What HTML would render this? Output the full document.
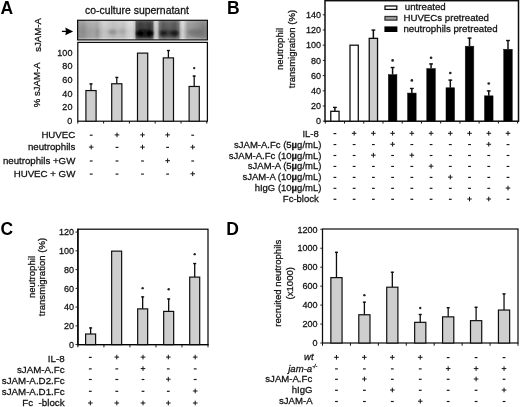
<!DOCTYPE html>
<html><head><meta charset="utf-8"><title>figure</title>
<style>html,body{margin:0;padding:0;background:#fff;}svg{display:block;}text{font-family:"Liberation Sans",sans-serif;}</style>
</head><body>
<svg width="520" height="407" viewBox="0 0 520 407" font-family="'Liberation Sans', sans-serif" font-size="9.6">
<rect x="0" y="0" width="520" height="407" fill="#fff"/>
<filter id="soft" x="0" y="0" width="520" height="407" filterUnits="userSpaceOnUse"><feGaussianBlur stdDeviation="0.36"/></filter>
<g filter="url(#soft)">
<text x="0.4" y="13.8" font-size="17.5" font-weight="bold" fill="#000">A</text>
<text x="85" y="14.4" font-size="10.45" fill="#141414" stroke="#141414" stroke-width="0.28">co-culture supernatant</text>
<defs>
<linearGradient id="blot" x1="0" x2="1" y1="0" y2="0"><stop offset="0.0000" stop-color="#8c8c8c"/><stop offset="0.0185" stop-color="#9a9a9a"/><stop offset="0.0416" stop-color="#959595"/><stop offset="0.0801" stop-color="#a6a6a6"/><stop offset="0.1263" stop-color="#acacac"/><stop offset="0.1495" stop-color="#a4a4a4"/><stop offset="0.1803" stop-color="#c0c0c0"/><stop offset="0.2034" stop-color="#cecece"/><stop offset="0.2342" stop-color="#c8c8c8"/><stop offset="0.2727" stop-color="#bebebe"/><stop offset="0.3267" stop-color="#c6c6c6"/><stop offset="0.3575" stop-color="#c2c2c2"/><stop offset="0.3883" stop-color="#d6d6d6"/><stop offset="0.4191" stop-color="#dedede"/><stop offset="0.4391" stop-color="#c6c6c6"/><stop offset="0.4530" stop-color="#4a4a4a"/><stop offset="0.4807" stop-color="#343434"/><stop offset="0.5193" stop-color="#3e3e3e"/><stop offset="0.5578" stop-color="#323232"/><stop offset="0.5778" stop-color="#4e4e4e"/><stop offset="0.5901" stop-color="#b8b8b8"/><stop offset="0.6040" stop-color="#d6d6d6"/><stop offset="0.6179" stop-color="#bcbcbc"/><stop offset="0.6317" stop-color="#6e6e6e"/><stop offset="0.6579" stop-color="#525252"/><stop offset="0.7042" stop-color="#606060"/><stop offset="0.7504" stop-color="#505050"/><stop offset="0.7781" stop-color="#6e6e6e"/><stop offset="0.7935" stop-color="#c0c0c0"/><stop offset="0.8105" stop-color="#dcdcdc"/><stop offset="0.8274" stop-color="#c0c0c0"/><stop offset="0.8467" stop-color="#9e9e9e"/><stop offset="0.8891" stop-color="#969696"/><stop offset="0.9276" stop-color="#8c8c8c"/><stop offset="0.9661" stop-color="#828282"/><stop offset="1.0000" stop-color="#8e8e8e"/></linearGradient>
<linearGradient id="blotv" x1="0" x2="0" y1="0" y2="1">
<stop offset="0" stop-color="#fff" stop-opacity="0.20"/>
<stop offset="0.18" stop-color="#fff" stop-opacity="0.04"/>
<stop offset="0.55" stop-color="#000" stop-opacity="0.06"/>
<stop offset="0.8" stop-color="#000" stop-opacity="0.04"/>
<stop offset="0.92" stop-color="#fff" stop-opacity="0.18"/>
<stop offset="1" stop-color="#fff" stop-opacity="0.30"/>
</linearGradient>
<filter id="bl" x="-50%" y="-50%" width="200%" height="200%"><feGaussianBlur stdDeviation="1.3"/></filter>
<clipPath id="blotclip"><rect x="77.6" y="20.3" width="129.8" height="19.6"/></clipPath>
</defs>
<g clip-path="url(#blotclip)">
<rect x="77.6" y="20.3" width="129.8" height="19.6" fill="url(#blot)"/>
<rect x="77.6" y="20.3" width="129.8" height="19.6" fill="url(#blotv)"/>
<g filter="url(#bl)">
<ellipse cx="112.5" cy="32" rx="4" ry="2.6" fill="#888" opacity="0.7"/>
<ellipse cx="122" cy="31.5" rx="3.5" ry="2.8" fill="#999" opacity="0.5"/>
<ellipse cx="83" cy="30" rx="2.2" ry="5" fill="#8c8c8c" opacity="0.5"/>
<ellipse cx="97.5" cy="33" rx="1.6" ry="4" fill="#8c8c8c" opacity="0.5"/>
<ellipse cx="144.8" cy="33.2" rx="8.6" ry="3.4" fill="#111" opacity="0.85"/>
<ellipse cx="139.8" cy="33.6" rx="3.4" ry="2.8" fill="#000" opacity="0.7"/>
<ellipse cx="149.8" cy="33.6" rx="3.2" ry="2.8" fill="#000" opacity="0.7"/>
<ellipse cx="169" cy="33" rx="9.6" ry="2.8" fill="#222" opacity="0.6"/>
<ellipse cx="163.2" cy="33.2" rx="3.2" ry="2.4" fill="#000" opacity="0.6"/>
<ellipse cx="174.8" cy="33.2" rx="3.4" ry="2.5" fill="#000" opacity="0.65"/>
<ellipse cx="196" cy="32.5" rx="8" ry="3.4" fill="#666" opacity="0.5"/>
<ellipse cx="203" cy="30" rx="2.5" ry="5" fill="#777" opacity="0.4"/>
</g></g>
<rect x="77.60" y="20.30" width="129.80" height="19.60" fill="none" stroke="#111" stroke-width="1.2"/>
<path d="M61.9 31.4 H67" stroke="#000" stroke-width="1.3" fill="none"/>
<path d="M73.1 31.4 L65.3 27.6 L66.0 31.4 L65.3 35.2 Z" fill="#000"/>
<text x="40.6" y="35" text-anchor="middle" transform="rotate(-90 40.6 35)" fill="#141414" stroke="#141414" stroke-width="0.28">sJAM-A</text>
<text x="40.3" y="84.8" text-anchor="middle" transform="rotate(-90 40.3 84.8)" fill="#141414" stroke="#141414" stroke-width="0.28">% sJAM-A</text>
<rect x="77.80" y="42.40" width="129.60" height="78.80" fill="none" stroke="#111" stroke-width="1.25"/>
<text x="0" y="0" text-anchor="end" font-size="9.7" transform="translate(72.4 124.2) scale(0.93 1)" fill="#141414" stroke="#141414" stroke-width="0.28">0</text>
<text x="0" y="0" text-anchor="end" font-size="9.7" transform="translate(72.4 110.49828000000001) scale(0.93 1)" fill="#141414" stroke="#141414" stroke-width="0.28">20</text>
<text x="0" y="0" text-anchor="end" font-size="9.7" transform="translate(72.4 96.79656) scale(0.93 1)" fill="#141414" stroke="#141414" stroke-width="0.28">40</text>
<text x="0" y="0" text-anchor="end" font-size="9.7" transform="translate(72.4 83.09484) scale(0.93 1)" fill="#141414" stroke="#141414" stroke-width="0.28">60</text>
<text x="0" y="0" text-anchor="end" font-size="9.7" transform="translate(72.4 69.39312000000001) scale(0.93 1)" fill="#141414" stroke="#141414" stroke-width="0.28">80</text>
<text x="0" y="0" text-anchor="end" font-size="9.7" transform="translate(72.4 55.691399999999994) scale(0.93 1)" fill="#141414" stroke="#141414" stroke-width="0.28">100</text>
<line x1="77.8" y1="121.2" x2="77.8" y2="123.5" stroke="#111" stroke-width="1.0"/>
<line x1="103.6" y1="121.2" x2="103.6" y2="123.5" stroke="#111" stroke-width="1.0"/>
<line x1="129.4" y1="121.2" x2="129.4" y2="123.5" stroke="#111" stroke-width="1.0"/>
<line x1="155.2" y1="121.2" x2="155.2" y2="123.5" stroke="#111" stroke-width="1.0"/>
<line x1="181.0" y1="121.2" x2="181.0" y2="123.5" stroke="#111" stroke-width="1.0"/>
<line x1="206.8" y1="121.2" x2="206.8" y2="123.5" stroke="#111" stroke-width="1.0"/>
<line x1="91.0" y1="90.555" x2="91.0" y2="83.40450000000001" stroke="#111" stroke-width="1.3"/>
<line x1="89.5" y1="83.90450000000001" x2="92.5" y2="83.90450000000001" stroke="#111" stroke-width="1.4"/>
<rect x="85.90" y="90.56" width="10.20" height="30.64" fill="#cecece" stroke="#111" stroke-width="1.2"/>
<line x1="116.8" y1="83.745" x2="116.8" y2="76.935" stroke="#111" stroke-width="1.3"/>
<line x1="115.3" y1="77.435" x2="118.3" y2="77.435" stroke="#111" stroke-width="1.4"/>
<rect x="111.70" y="83.75" width="10.20" height="37.45" fill="#cecece" stroke="#111" stroke-width="1.2"/>
<rect x="137.50" y="53.10" width="10.20" height="68.10" fill="#cecece" stroke="#111" stroke-width="1.2"/>
<line x1="168.4" y1="57.86700000000001" x2="168.4" y2="50.03550000000001" stroke="#111" stroke-width="1.3"/>
<line x1="166.9" y1="50.53550000000001" x2="169.9" y2="50.53550000000001" stroke="#111" stroke-width="1.4"/>
<rect x="163.30" y="57.87" width="10.20" height="63.33" fill="#cecece" stroke="#111" stroke-width="1.2"/>
<line x1="194.20000000000002" y1="86.46900000000001" x2="194.20000000000002" y2="75.57300000000001" stroke="#111" stroke-width="1.3"/>
<line x1="192.70000000000002" y1="76.07300000000001" x2="195.70000000000002" y2="76.07300000000001" stroke="#111" stroke-width="1.4"/>
<rect x="189.10" y="86.47" width="10.20" height="34.73" fill="#cecece" stroke="#111" stroke-width="1.2"/>
<circle cx="194.20" cy="68.08" r="1.2" fill="#222"/>
<text x="75.3" y="138.2" text-anchor="end" font-size="9.7" fill="#141414" stroke="#141414" stroke-width="0.28">HUVEC</text>
<line x1="89.8" y1="135.2" x2="92.60000000000001" y2="135.2" stroke="#141414" stroke-width="1.15"/>
<line x1="114.7" y1="134.89999999999998" x2="119.3" y2="134.89999999999998" stroke="#141414" stroke-width="1.0"/>
<line x1="117.0" y1="132.59999999999997" x2="117.0" y2="137.2" stroke="#141414" stroke-width="1.0"/>
<line x1="140.2" y1="134.89999999999998" x2="144.8" y2="134.89999999999998" stroke="#141414" stroke-width="1.0"/>
<line x1="142.5" y1="132.59999999999997" x2="142.5" y2="137.2" stroke="#141414" stroke-width="1.0"/>
<line x1="165.29999999999998" y1="134.89999999999998" x2="169.9" y2="134.89999999999998" stroke="#141414" stroke-width="1.0"/>
<line x1="167.6" y1="132.59999999999997" x2="167.6" y2="137.2" stroke="#141414" stroke-width="1.0"/>
<line x1="191.29999999999998" y1="135.2" x2="194.1" y2="135.2" stroke="#141414" stroke-width="1.15"/>
<text x="75.3" y="150.4" text-anchor="end" font-size="9.7" fill="#141414" stroke="#141414" stroke-width="0.28">neutrophils</text>
<line x1="88.9" y1="147.1" x2="93.5" y2="147.1" stroke="#141414" stroke-width="1.0"/>
<line x1="91.2" y1="144.79999999999998" x2="91.2" y2="149.4" stroke="#141414" stroke-width="1.0"/>
<line x1="115.6" y1="147.4" x2="118.4" y2="147.4" stroke="#141414" stroke-width="1.15"/>
<line x1="140.2" y1="147.1" x2="144.8" y2="147.1" stroke="#141414" stroke-width="1.0"/>
<line x1="142.5" y1="144.79999999999998" x2="142.5" y2="149.4" stroke="#141414" stroke-width="1.0"/>
<line x1="166.2" y1="147.4" x2="169.0" y2="147.4" stroke="#141414" stroke-width="1.15"/>
<line x1="190.39999999999998" y1="147.1" x2="195.0" y2="147.1" stroke="#141414" stroke-width="1.0"/>
<line x1="192.7" y1="144.79999999999998" x2="192.7" y2="149.4" stroke="#141414" stroke-width="1.0"/>
<text x="75.3" y="164.0" text-anchor="end" font-size="9.7" fill="#141414" stroke="#141414" stroke-width="0.28">neutrophils +GW</text>
<line x1="89.8" y1="161.0" x2="92.60000000000001" y2="161.0" stroke="#141414" stroke-width="1.15"/>
<line x1="115.6" y1="161.0" x2="118.4" y2="161.0" stroke="#141414" stroke-width="1.15"/>
<line x1="141.1" y1="161.0" x2="143.9" y2="161.0" stroke="#141414" stroke-width="1.15"/>
<line x1="165.29999999999998" y1="160.7" x2="169.9" y2="160.7" stroke="#141414" stroke-width="1.0"/>
<line x1="167.6" y1="158.39999999999998" x2="167.6" y2="163.0" stroke="#141414" stroke-width="1.0"/>
<line x1="191.29999999999998" y1="161.0" x2="194.1" y2="161.0" stroke="#141414" stroke-width="1.15"/>
<text x="75.3" y="177.1" text-anchor="end" font-size="9.7" fill="#141414" stroke="#141414" stroke-width="0.28">HUVEC + GW</text>
<line x1="89.8" y1="174.1" x2="92.60000000000001" y2="174.1" stroke="#141414" stroke-width="1.15"/>
<line x1="115.6" y1="174.1" x2="118.4" y2="174.1" stroke="#141414" stroke-width="1.15"/>
<line x1="141.1" y1="174.1" x2="143.9" y2="174.1" stroke="#141414" stroke-width="1.15"/>
<line x1="166.2" y1="174.1" x2="169.0" y2="174.1" stroke="#141414" stroke-width="1.15"/>
<line x1="190.39999999999998" y1="173.79999999999998" x2="195.0" y2="173.79999999999998" stroke="#141414" stroke-width="1.0"/>
<line x1="192.7" y1="171.49999999999997" x2="192.7" y2="176.1" stroke="#141414" stroke-width="1.0"/>
<text x="226.9" y="13.8" font-size="17.5" font-weight="bold" fill="#000">B</text>
<rect x="325.00" y="0.70" width="193.50" height="120.50" fill="none" stroke="#111" stroke-width="1.5"/>
<text x="0" y="0" text-anchor="end" font-size="9.7" transform="translate(321.0 124.3) scale(0.93 1)" fill="#141414" stroke="#141414" stroke-width="0.28">0</text>
<line x1="322.8" y1="121.2" x2="325.0" y2="121.2" stroke="#111" stroke-width="0.9"/>
<text x="0" y="0" text-anchor="end" font-size="9.7" transform="translate(321.0 109.1) scale(0.93 1)" fill="#141414" stroke="#141414" stroke-width="0.28">20</text>
<line x1="322.8" y1="106.0" x2="325.0" y2="106.0" stroke="#111" stroke-width="0.9"/>
<text x="0" y="0" text-anchor="end" font-size="9.7" transform="translate(321.0 93.9) scale(0.93 1)" fill="#141414" stroke="#141414" stroke-width="0.28">40</text>
<line x1="322.8" y1="90.80000000000001" x2="325.0" y2="90.80000000000001" stroke="#111" stroke-width="0.9"/>
<text x="0" y="0" text-anchor="end" font-size="9.7" transform="translate(321.0 78.69999999999999) scale(0.93 1)" fill="#141414" stroke="#141414" stroke-width="0.28">60</text>
<line x1="322.8" y1="75.6" x2="325.0" y2="75.6" stroke="#111" stroke-width="0.9"/>
<text x="0" y="0" text-anchor="end" font-size="9.7" transform="translate(321.0 63.50000000000001) scale(0.93 1)" fill="#141414" stroke="#141414" stroke-width="0.28">80</text>
<line x1="322.8" y1="60.400000000000006" x2="325.0" y2="60.400000000000006" stroke="#111" stroke-width="0.9"/>
<text x="0" y="0" text-anchor="end" font-size="9.7" transform="translate(321.0 48.300000000000004) scale(0.93 1)" fill="#141414" stroke="#141414" stroke-width="0.28">100</text>
<line x1="322.8" y1="45.2" x2="325.0" y2="45.2" stroke="#111" stroke-width="0.9"/>
<text x="0" y="0" text-anchor="end" font-size="9.7" transform="translate(321.0 33.1) scale(0.93 1)" fill="#141414" stroke="#141414" stroke-width="0.28">120</text>
<line x1="322.8" y1="30.0" x2="325.0" y2="30.0" stroke="#111" stroke-width="0.9"/>
<text x="0" y="0" text-anchor="end" font-size="9.7" transform="translate(321.0 17.9) scale(0.93 1)" fill="#141414" stroke="#141414" stroke-width="0.28">140</text>
<line x1="322.8" y1="14.799999999999997" x2="325.0" y2="14.799999999999997" stroke="#111" stroke-width="0.9"/>
<text x="283.0" y="49" text-anchor="middle" transform="rotate(-90 283.0 49)" fill="#141414" stroke="#141414" stroke-width="0.28">neutrophil</text>
<text x="295.4" y="49" text-anchor="middle" transform="rotate(-90 295.4 49)" fill="#141414" stroke="#141414" stroke-width="0.28">transmigration (%)</text>
<line x1="325.3" y1="121.2" x2="325.3" y2="123.5" stroke="#111" stroke-width="1.0"/>
<line x1="344.53000000000003" y1="121.2" x2="344.53000000000003" y2="123.5" stroke="#111" stroke-width="1.0"/>
<line x1="363.76" y1="121.2" x2="363.76" y2="123.5" stroke="#111" stroke-width="1.0"/>
<line x1="382.99" y1="121.2" x2="382.99" y2="123.5" stroke="#111" stroke-width="1.0"/>
<line x1="402.22" y1="121.2" x2="402.22" y2="123.5" stroke="#111" stroke-width="1.0"/>
<line x1="421.45000000000005" y1="121.2" x2="421.45000000000005" y2="123.5" stroke="#111" stroke-width="1.0"/>
<line x1="440.68" y1="121.2" x2="440.68" y2="123.5" stroke="#111" stroke-width="1.0"/>
<line x1="459.91" y1="121.2" x2="459.91" y2="123.5" stroke="#111" stroke-width="1.0"/>
<line x1="479.14" y1="121.2" x2="479.14" y2="123.5" stroke="#111" stroke-width="1.0"/>
<line x1="498.37" y1="121.2" x2="498.37" y2="123.5" stroke="#111" stroke-width="1.0"/>
<line x1="517.6" y1="121.2" x2="517.6" y2="123.5" stroke="#111" stroke-width="1.0"/>
<line x1="334.915" y1="111.32000000000001" x2="334.915" y2="106.912" stroke="#111" stroke-width="1.5"/>
<line x1="333.01500000000004" y1="107.412" x2="336.815" y2="107.412" stroke="#111" stroke-width="1.4"/>
<rect x="330.77" y="111.32" width="8.30" height="9.88" fill="#fff" stroke="#111" stroke-width="1.3"/>
<rect x="350.00" y="45.20" width="8.30" height="76.00" fill="#fff" stroke="#111" stroke-width="1.3"/>
<line x1="373.375" y1="38.36" x2="373.375" y2="29.620000000000005" stroke="#111" stroke-width="1.5"/>
<line x1="371.475" y1="30.120000000000005" x2="375.275" y2="30.120000000000005" stroke="#111" stroke-width="1.4"/>
<rect x="369.23" y="38.36" width="8.30" height="82.84" fill="#cecece" stroke="#111" stroke-width="1.3"/>
<line x1="392.605" y1="74.612" x2="392.605" y2="67.012" stroke="#111" stroke-width="1.5"/>
<line x1="390.70500000000004" y1="67.512" x2="394.505" y2="67.512" stroke="#111" stroke-width="1.4"/>
<rect x="388.31" y="74.61" width="8.60" height="46.59" fill="#000" stroke="#111" stroke-width="0.5"/>
<circle cx="392.61" cy="60.40" r="1.32" fill="#222"/>
<line x1="411.83500000000004" y1="93.08" x2="411.83500000000004" y2="87.988" stroke="#111" stroke-width="1.5"/>
<line x1="409.93500000000006" y1="88.488" x2="413.735" y2="88.488" stroke="#111" stroke-width="1.4"/>
<rect x="407.54" y="93.08" width="8.60" height="28.12" fill="#000" stroke="#111" stroke-width="0.5"/>
<circle cx="411.84" cy="80.39" r="1.32" fill="#222"/>
<line x1="431.065" y1="68.53200000000001" x2="431.065" y2="63.440000000000005" stroke="#111" stroke-width="1.5"/>
<line x1="429.165" y1="63.940000000000005" x2="432.965" y2="63.940000000000005" stroke="#111" stroke-width="1.4"/>
<rect x="426.76" y="68.53" width="8.60" height="52.67" fill="#000" stroke="#111" stroke-width="0.5"/>
<circle cx="431.06" cy="57.74" r="1.32" fill="#222"/>
<line x1="450.295" y1="87.76" x2="450.295" y2="79.628" stroke="#111" stroke-width="1.5"/>
<line x1="448.39500000000004" y1="80.128" x2="452.195" y2="80.128" stroke="#111" stroke-width="1.4"/>
<rect x="446.00" y="87.76" width="8.60" height="33.44" fill="#000" stroke="#111" stroke-width="0.5"/>
<circle cx="450.30" cy="73.02" r="1.32" fill="#222"/>
<line x1="469.525" y1="46.188" x2="469.525" y2="37.60000000000001" stroke="#111" stroke-width="1.5"/>
<line x1="467.625" y1="38.10000000000001" x2="471.42499999999995" y2="38.10000000000001" stroke="#111" stroke-width="1.4"/>
<rect x="465.22" y="46.19" width="8.60" height="75.01" fill="#000" stroke="#111" stroke-width="0.5"/>
<line x1="488.755" y1="95.816" x2="488.755" y2="90.42" stroke="#111" stroke-width="1.5"/>
<line x1="486.855" y1="90.92" x2="490.655" y2="90.92" stroke="#111" stroke-width="1.4"/>
<rect x="484.45" y="95.82" width="8.60" height="25.38" fill="#000" stroke="#111" stroke-width="0.5"/>
<circle cx="488.75" cy="83.50" r="1.32" fill="#222"/>
<line x1="507.985" y1="49.227999999999994" x2="507.985" y2="40.03200000000001" stroke="#111" stroke-width="1.5"/>
<line x1="506.08500000000004" y1="40.53200000000001" x2="509.885" y2="40.53200000000001" stroke="#111" stroke-width="1.4"/>
<rect x="503.69" y="49.23" width="8.60" height="71.97" fill="#000" stroke="#111" stroke-width="0.5"/>
<rect x="385.00" y="6.00" width="11.80" height="3.40" fill="#fff" stroke="#111" stroke-width="1.3"/>
<rect x="385.00" y="16.50" width="11.90" height="3.60" fill="#a4a4a4" stroke="#333" stroke-width="1.3"/>
<rect x="384.40" y="26.40" width="13.00" height="5.60" fill="#000" stroke="#111" stroke-width="0"/>
<text x="404.8" y="10.2" font-size="9.7" fill="#141414" stroke="#141414" stroke-width="0.28">untreated</text>
<text x="403.4" y="21.4" font-size="9.7" fill="#141414" stroke="#141414" stroke-width="0.28">HUVECs pretreated</text>
<text x="403.4" y="31.7" font-size="9.7" fill="#141414" stroke="#141414" stroke-width="0.28">neutrophils pretreated</text>
<text x="321.4" y="136.6" text-anchor="end" font-size="9.5" fill="#141414" stroke="#141414" stroke-width="0.28" xml:space="preserve">IL-8 </text>
<line x1="333.51500000000004" y1="133.6" x2="336.315" y2="133.6" stroke="#141414" stroke-width="1.15"/>
<line x1="351.84499999999997" y1="133.29999999999998" x2="356.445" y2="133.29999999999998" stroke="#141414" stroke-width="1.0"/>
<line x1="354.145" y1="130.99999999999997" x2="354.145" y2="135.6" stroke="#141414" stroke-width="1.0"/>
<line x1="371.075" y1="133.29999999999998" x2="375.675" y2="133.29999999999998" stroke="#141414" stroke-width="1.0"/>
<line x1="373.375" y1="130.99999999999997" x2="373.375" y2="135.6" stroke="#141414" stroke-width="1.0"/>
<line x1="390.305" y1="133.29999999999998" x2="394.90500000000003" y2="133.29999999999998" stroke="#141414" stroke-width="1.0"/>
<line x1="392.605" y1="130.99999999999997" x2="392.605" y2="135.6" stroke="#141414" stroke-width="1.0"/>
<line x1="409.535" y1="133.29999999999998" x2="414.13500000000005" y2="133.29999999999998" stroke="#141414" stroke-width="1.0"/>
<line x1="411.83500000000004" y1="130.99999999999997" x2="411.83500000000004" y2="135.6" stroke="#141414" stroke-width="1.0"/>
<line x1="428.765" y1="133.29999999999998" x2="433.365" y2="133.29999999999998" stroke="#141414" stroke-width="1.0"/>
<line x1="431.065" y1="130.99999999999997" x2="431.065" y2="135.6" stroke="#141414" stroke-width="1.0"/>
<line x1="447.995" y1="133.29999999999998" x2="452.595" y2="133.29999999999998" stroke="#141414" stroke-width="1.0"/>
<line x1="450.295" y1="130.99999999999997" x2="450.295" y2="135.6" stroke="#141414" stroke-width="1.0"/>
<line x1="467.22499999999997" y1="133.29999999999998" x2="471.825" y2="133.29999999999998" stroke="#141414" stroke-width="1.0"/>
<line x1="469.525" y1="130.99999999999997" x2="469.525" y2="135.6" stroke="#141414" stroke-width="1.0"/>
<line x1="486.455" y1="133.29999999999998" x2="491.055" y2="133.29999999999998" stroke="#141414" stroke-width="1.0"/>
<line x1="488.755" y1="130.99999999999997" x2="488.755" y2="135.6" stroke="#141414" stroke-width="1.0"/>
<line x1="505.685" y1="133.29999999999998" x2="510.285" y2="133.29999999999998" stroke="#141414" stroke-width="1.0"/>
<line x1="507.985" y1="130.99999999999997" x2="507.985" y2="135.6" stroke="#141414" stroke-width="1.0"/>
<text x="321.4" y="147.54999999999998" text-anchor="end" font-size="9.5" fill="#141414" stroke="#141414" stroke-width="0.28" xml:space="preserve">sJAM-A.Fc (5<tspan font-weight="bold">µ</tspan>g/mL)</text>
<line x1="333.51500000000004" y1="144.54999999999998" x2="336.315" y2="144.54999999999998" stroke="#141414" stroke-width="1.15"/>
<line x1="352.745" y1="144.54999999999998" x2="355.54499999999996" y2="144.54999999999998" stroke="#141414" stroke-width="1.15"/>
<line x1="371.975" y1="144.54999999999998" x2="374.775" y2="144.54999999999998" stroke="#141414" stroke-width="1.15"/>
<line x1="390.305" y1="144.24999999999997" x2="394.90500000000003" y2="144.24999999999997" stroke="#141414" stroke-width="1.0"/>
<line x1="392.605" y1="141.94999999999996" x2="392.605" y2="146.54999999999998" stroke="#141414" stroke-width="1.0"/>
<line x1="410.43500000000006" y1="144.54999999999998" x2="413.235" y2="144.54999999999998" stroke="#141414" stroke-width="1.15"/>
<line x1="429.665" y1="144.54999999999998" x2="432.465" y2="144.54999999999998" stroke="#141414" stroke-width="1.15"/>
<line x1="448.89500000000004" y1="144.54999999999998" x2="451.695" y2="144.54999999999998" stroke="#141414" stroke-width="1.15"/>
<line x1="468.125" y1="144.54999999999998" x2="470.92499999999995" y2="144.54999999999998" stroke="#141414" stroke-width="1.15"/>
<line x1="486.455" y1="144.24999999999997" x2="491.055" y2="144.24999999999997" stroke="#141414" stroke-width="1.0"/>
<line x1="488.755" y1="141.94999999999996" x2="488.755" y2="146.54999999999998" stroke="#141414" stroke-width="1.0"/>
<line x1="506.58500000000004" y1="144.54999999999998" x2="509.385" y2="144.54999999999998" stroke="#141414" stroke-width="1.15"/>
<text x="321.4" y="158.5" text-anchor="end" font-size="9.5" fill="#141414" stroke="#141414" stroke-width="0.28" xml:space="preserve">sJAM-A.Fc (10<tspan font-weight="bold">µ</tspan>g/mL)</text>
<line x1="333.51500000000004" y1="155.5" x2="336.315" y2="155.5" stroke="#141414" stroke-width="1.15"/>
<line x1="352.745" y1="155.5" x2="355.54499999999996" y2="155.5" stroke="#141414" stroke-width="1.15"/>
<line x1="371.075" y1="155.2" x2="375.675" y2="155.2" stroke="#141414" stroke-width="1.0"/>
<line x1="373.375" y1="152.89999999999998" x2="373.375" y2="157.5" stroke="#141414" stroke-width="1.0"/>
<line x1="391.20500000000004" y1="155.5" x2="394.005" y2="155.5" stroke="#141414" stroke-width="1.15"/>
<line x1="409.535" y1="155.2" x2="414.13500000000005" y2="155.2" stroke="#141414" stroke-width="1.0"/>
<line x1="411.83500000000004" y1="152.89999999999998" x2="411.83500000000004" y2="157.5" stroke="#141414" stroke-width="1.0"/>
<line x1="429.665" y1="155.5" x2="432.465" y2="155.5" stroke="#141414" stroke-width="1.15"/>
<line x1="448.89500000000004" y1="155.5" x2="451.695" y2="155.5" stroke="#141414" stroke-width="1.15"/>
<line x1="468.125" y1="155.5" x2="470.92499999999995" y2="155.5" stroke="#141414" stroke-width="1.15"/>
<line x1="487.355" y1="155.5" x2="490.155" y2="155.5" stroke="#141414" stroke-width="1.15"/>
<line x1="506.58500000000004" y1="155.5" x2="509.385" y2="155.5" stroke="#141414" stroke-width="1.15"/>
<text x="321.4" y="169.45" text-anchor="end" font-size="9.5" fill="#141414" stroke="#141414" stroke-width="0.28" xml:space="preserve">sJAM-A (5<tspan font-weight="bold">µ</tspan>g/mL)</text>
<line x1="333.51500000000004" y1="166.45" x2="336.315" y2="166.45" stroke="#141414" stroke-width="1.15"/>
<line x1="352.745" y1="166.45" x2="355.54499999999996" y2="166.45" stroke="#141414" stroke-width="1.15"/>
<line x1="371.975" y1="166.45" x2="374.775" y2="166.45" stroke="#141414" stroke-width="1.15"/>
<line x1="391.20500000000004" y1="166.45" x2="394.005" y2="166.45" stroke="#141414" stroke-width="1.15"/>
<line x1="410.43500000000006" y1="166.45" x2="413.235" y2="166.45" stroke="#141414" stroke-width="1.15"/>
<line x1="428.765" y1="166.14999999999998" x2="433.365" y2="166.14999999999998" stroke="#141414" stroke-width="1.0"/>
<line x1="431.065" y1="163.84999999999997" x2="431.065" y2="168.45" stroke="#141414" stroke-width="1.0"/>
<line x1="448.89500000000004" y1="166.45" x2="451.695" y2="166.45" stroke="#141414" stroke-width="1.15"/>
<line x1="468.125" y1="166.45" x2="470.92499999999995" y2="166.45" stroke="#141414" stroke-width="1.15"/>
<line x1="487.355" y1="166.45" x2="490.155" y2="166.45" stroke="#141414" stroke-width="1.15"/>
<line x1="506.58500000000004" y1="166.45" x2="509.385" y2="166.45" stroke="#141414" stroke-width="1.15"/>
<text x="321.4" y="180.39999999999998" text-anchor="end" font-size="9.5" fill="#141414" stroke="#141414" stroke-width="0.28" xml:space="preserve">sJAM-A (10<tspan font-weight="bold">µ</tspan>g/mL)</text>
<line x1="333.51500000000004" y1="177.39999999999998" x2="336.315" y2="177.39999999999998" stroke="#141414" stroke-width="1.15"/>
<line x1="352.745" y1="177.39999999999998" x2="355.54499999999996" y2="177.39999999999998" stroke="#141414" stroke-width="1.15"/>
<line x1="371.975" y1="177.39999999999998" x2="374.775" y2="177.39999999999998" stroke="#141414" stroke-width="1.15"/>
<line x1="391.20500000000004" y1="177.39999999999998" x2="394.005" y2="177.39999999999998" stroke="#141414" stroke-width="1.15"/>
<line x1="410.43500000000006" y1="177.39999999999998" x2="413.235" y2="177.39999999999998" stroke="#141414" stroke-width="1.15"/>
<line x1="429.665" y1="177.39999999999998" x2="432.465" y2="177.39999999999998" stroke="#141414" stroke-width="1.15"/>
<line x1="447.995" y1="177.09999999999997" x2="452.595" y2="177.09999999999997" stroke="#141414" stroke-width="1.0"/>
<line x1="450.295" y1="174.79999999999995" x2="450.295" y2="179.39999999999998" stroke="#141414" stroke-width="1.0"/>
<line x1="468.125" y1="177.39999999999998" x2="470.92499999999995" y2="177.39999999999998" stroke="#141414" stroke-width="1.15"/>
<line x1="487.355" y1="177.39999999999998" x2="490.155" y2="177.39999999999998" stroke="#141414" stroke-width="1.15"/>
<line x1="506.58500000000004" y1="177.39999999999998" x2="509.385" y2="177.39999999999998" stroke="#141414" stroke-width="1.15"/>
<text x="321.4" y="191.35" text-anchor="end" font-size="9.5" fill="#141414" stroke="#141414" stroke-width="0.28" xml:space="preserve">hIgG (10<tspan font-weight="bold">µ</tspan>g/mL)</text>
<line x1="333.51500000000004" y1="188.35" x2="336.315" y2="188.35" stroke="#141414" stroke-width="1.15"/>
<line x1="352.745" y1="188.35" x2="355.54499999999996" y2="188.35" stroke="#141414" stroke-width="1.15"/>
<line x1="371.975" y1="188.35" x2="374.775" y2="188.35" stroke="#141414" stroke-width="1.15"/>
<line x1="391.20500000000004" y1="188.35" x2="394.005" y2="188.35" stroke="#141414" stroke-width="1.15"/>
<line x1="410.43500000000006" y1="188.35" x2="413.235" y2="188.35" stroke="#141414" stroke-width="1.15"/>
<line x1="429.665" y1="188.35" x2="432.465" y2="188.35" stroke="#141414" stroke-width="1.15"/>
<line x1="448.89500000000004" y1="188.35" x2="451.695" y2="188.35" stroke="#141414" stroke-width="1.15"/>
<line x1="468.125" y1="188.35" x2="470.92499999999995" y2="188.35" stroke="#141414" stroke-width="1.15"/>
<line x1="487.355" y1="188.35" x2="490.155" y2="188.35" stroke="#141414" stroke-width="1.15"/>
<line x1="505.685" y1="188.04999999999998" x2="510.285" y2="188.04999999999998" stroke="#141414" stroke-width="1.0"/>
<line x1="507.985" y1="185.74999999999997" x2="507.985" y2="190.35" stroke="#141414" stroke-width="1.0"/>
<text x="321.4" y="202.29999999999998" text-anchor="end" font-size="9.5" fill="#141414" stroke="#141414" stroke-width="0.28" xml:space="preserve">Fc-block </text>
<line x1="333.51500000000004" y1="199.29999999999998" x2="336.315" y2="199.29999999999998" stroke="#141414" stroke-width="1.15"/>
<line x1="352.745" y1="199.29999999999998" x2="355.54499999999996" y2="199.29999999999998" stroke="#141414" stroke-width="1.15"/>
<line x1="371.975" y1="199.29999999999998" x2="374.775" y2="199.29999999999998" stroke="#141414" stroke-width="1.15"/>
<line x1="391.20500000000004" y1="199.29999999999998" x2="394.005" y2="199.29999999999998" stroke="#141414" stroke-width="1.15"/>
<line x1="410.43500000000006" y1="199.29999999999998" x2="413.235" y2="199.29999999999998" stroke="#141414" stroke-width="1.15"/>
<line x1="429.665" y1="199.29999999999998" x2="432.465" y2="199.29999999999998" stroke="#141414" stroke-width="1.15"/>
<line x1="448.89500000000004" y1="199.29999999999998" x2="451.695" y2="199.29999999999998" stroke="#141414" stroke-width="1.15"/>
<line x1="467.22499999999997" y1="198.99999999999997" x2="471.825" y2="198.99999999999997" stroke="#141414" stroke-width="1.0"/>
<line x1="469.525" y1="196.69999999999996" x2="469.525" y2="201.29999999999998" stroke="#141414" stroke-width="1.0"/>
<line x1="486.455" y1="198.99999999999997" x2="491.055" y2="198.99999999999997" stroke="#141414" stroke-width="1.0"/>
<line x1="488.755" y1="196.69999999999996" x2="488.755" y2="201.29999999999998" stroke="#141414" stroke-width="1.0"/>
<line x1="506.58500000000004" y1="199.29999999999998" x2="509.385" y2="199.29999999999998" stroke="#141414" stroke-width="1.15"/>
<text x="0.4" y="235" font-size="17.5" font-weight="bold" fill="#000">C</text>
<rect x="77.90" y="229.20" width="130.10" height="115.40" fill="none" stroke="#000" stroke-width="1.2"/>
<line x1="77.9" y1="228.7" x2="77.9" y2="345.20000000000005" stroke="#000" stroke-width="1.35"/>
<line x1="77.30000000000001" y1="344.6" x2="208.5" y2="344.6" stroke="#000" stroke-width="1.35"/>
<text x="0" y="0" text-anchor="end" font-size="9.7" transform="translate(74.0 347.8) scale(0.93 1)" fill="#141414" stroke="#141414" stroke-width="0.28">0</text>
<line x1="75.5" y1="344.6" x2="77.9" y2="344.6" stroke="#111" stroke-width="0.9"/>
<text x="0" y="0" text-anchor="end" font-size="9.7" transform="translate(74.0 329.05) scale(0.93 1)" fill="#141414" stroke="#141414" stroke-width="0.28">20</text>
<line x1="75.5" y1="325.85" x2="77.9" y2="325.85" stroke="#111" stroke-width="0.9"/>
<text x="0" y="0" text-anchor="end" font-size="9.7" transform="translate(74.0 310.3) scale(0.93 1)" fill="#141414" stroke="#141414" stroke-width="0.28">40</text>
<line x1="75.5" y1="307.1" x2="77.9" y2="307.1" stroke="#111" stroke-width="0.9"/>
<text x="0" y="0" text-anchor="end" font-size="9.7" transform="translate(74.0 291.55) scale(0.93 1)" fill="#141414" stroke="#141414" stroke-width="0.28">60</text>
<line x1="75.5" y1="288.35" x2="77.9" y2="288.35" stroke="#111" stroke-width="0.9"/>
<text x="0" y="0" text-anchor="end" font-size="9.7" transform="translate(74.0 272.8) scale(0.93 1)" fill="#141414" stroke="#141414" stroke-width="0.28">80</text>
<line x1="75.5" y1="269.6" x2="77.9" y2="269.6" stroke="#111" stroke-width="0.9"/>
<text x="0" y="0" text-anchor="end" font-size="9.7" transform="translate(74.0 254.05) scale(0.93 1)" fill="#141414" stroke="#141414" stroke-width="0.28">100</text>
<line x1="75.5" y1="250.85000000000002" x2="77.9" y2="250.85000000000002" stroke="#111" stroke-width="0.9"/>
<text x="0" y="0" text-anchor="end" font-size="9.7" transform="translate(74.0 235.3) scale(0.93 1)" fill="#141414" stroke="#141414" stroke-width="0.28">120</text>
<line x1="75.5" y1="232.10000000000002" x2="77.9" y2="232.10000000000002" stroke="#111" stroke-width="0.9"/>
<text x="34.5" y="277" text-anchor="middle" transform="rotate(-90 34.5 277)" fill="#141414" stroke="#141414" stroke-width="0.28">neutrophil</text>
<text x="45.3" y="277" text-anchor="middle" transform="rotate(-90 45.3 277)" fill="#141414" stroke="#141414" stroke-width="0.28">transmigration (%)</text>
<line x1="77.9" y1="344.6" x2="77.9" y2="347.3" stroke="#111" stroke-width="1.0"/>
<line x1="103.92" y1="344.6" x2="103.92" y2="347.3" stroke="#111" stroke-width="1.0"/>
<line x1="129.94" y1="344.6" x2="129.94" y2="347.3" stroke="#111" stroke-width="1.0"/>
<line x1="155.96" y1="344.6" x2="155.96" y2="347.3" stroke="#111" stroke-width="1.0"/>
<line x1="181.98000000000002" y1="344.6" x2="181.98000000000002" y2="347.3" stroke="#111" stroke-width="1.0"/>
<line x1="208.0" y1="344.6" x2="208.0" y2="347.3" stroke="#111" stroke-width="1.0"/>
<line x1="90.61000000000001" y1="334.00625" x2="90.61000000000001" y2="327.44375" stroke="#111" stroke-width="1.3"/>
<line x1="89.11000000000001" y1="327.94375" x2="92.11000000000001" y2="327.94375" stroke="#111" stroke-width="1.4"/>
<rect x="85.61" y="334.01" width="10.00" height="10.59" fill="#cecece" stroke="#111" stroke-width="1.2"/>
<rect x="111.63" y="251.13" width="10.00" height="93.47" fill="#cecece" stroke="#111" stroke-width="1.2"/>
<line x1="142.64999999999998" y1="308.88125" x2="142.64999999999998" y2="296.4125" stroke="#111" stroke-width="1.3"/>
<line x1="141.14999999999998" y1="296.9125" x2="144.14999999999998" y2="296.9125" stroke="#111" stroke-width="1.4"/>
<rect x="137.65" y="308.88" width="10.00" height="35.72" fill="#cecece" stroke="#111" stroke-width="1.2"/>
<circle cx="142.65" cy="288.16" r="1.2" fill="#222"/>
<line x1="168.67" y1="311.4125" x2="168.67" y2="298.475" stroke="#111" stroke-width="1.3"/>
<line x1="167.17" y1="298.975" x2="170.17" y2="298.975" stroke="#111" stroke-width="1.4"/>
<rect x="163.67" y="311.41" width="10.00" height="33.19" fill="#cecece" stroke="#111" stroke-width="1.2"/>
<circle cx="168.67" cy="289.29" r="1.2" fill="#222"/>
<line x1="194.69" y1="277.1" x2="194.69" y2="263.0375" stroke="#111" stroke-width="1.3"/>
<line x1="193.19" y1="263.5375" x2="196.19" y2="263.5375" stroke="#111" stroke-width="1.4"/>
<rect x="189.69" y="277.10" width="10.00" height="67.50" fill="#cecece" stroke="#111" stroke-width="1.2"/>
<circle cx="194.69" cy="254.13" r="1.2" fill="#222"/>
<text x="64.6" y="361.8" text-anchor="end" font-size="9.75" fill="#141414" stroke="#141414" stroke-width="0.28" xml:space="preserve">IL-8</text>
<line x1="88.89999999999999" y1="357.40000000000003" x2="91.7" y2="357.40000000000003" stroke="#141414" stroke-width="1.15"/>
<line x1="114.5" y1="357.1" x2="119.1" y2="357.1" stroke="#141414" stroke-width="1.0"/>
<line x1="116.8" y1="354.8" x2="116.8" y2="359.40000000000003" stroke="#141414" stroke-width="1.0"/>
<line x1="140.7" y1="357.1" x2="145.3" y2="357.1" stroke="#141414" stroke-width="1.0"/>
<line x1="143.0" y1="354.8" x2="143.0" y2="359.40000000000003" stroke="#141414" stroke-width="1.0"/>
<line x1="166.0" y1="357.1" x2="170.60000000000002" y2="357.1" stroke="#141414" stroke-width="1.0"/>
<line x1="168.3" y1="354.8" x2="168.3" y2="359.40000000000003" stroke="#141414" stroke-width="1.0"/>
<line x1="192.89999999999998" y1="357.1" x2="197.5" y2="357.1" stroke="#141414" stroke-width="1.0"/>
<line x1="195.2" y1="354.8" x2="195.2" y2="359.40000000000003" stroke="#141414" stroke-width="1.0"/>
<text x="64.6" y="372.8" text-anchor="end" font-size="9.75" fill="#141414" stroke="#141414" stroke-width="0.28" xml:space="preserve">sJAM-A.Fc</text>
<line x1="88.89999999999999" y1="368.90000000000003" x2="91.7" y2="368.90000000000003" stroke="#141414" stroke-width="1.15"/>
<line x1="115.39999999999999" y1="368.90000000000003" x2="118.2" y2="368.90000000000003" stroke="#141414" stroke-width="1.15"/>
<line x1="140.7" y1="368.6" x2="145.3" y2="368.6" stroke="#141414" stroke-width="1.0"/>
<line x1="143.0" y1="366.3" x2="143.0" y2="370.90000000000003" stroke="#141414" stroke-width="1.0"/>
<line x1="166.9" y1="368.90000000000003" x2="169.70000000000002" y2="368.90000000000003" stroke="#141414" stroke-width="1.15"/>
<line x1="193.79999999999998" y1="368.90000000000003" x2="196.6" y2="368.90000000000003" stroke="#141414" stroke-width="1.15"/>
<text x="64.6" y="383.8" text-anchor="end" font-size="9.75" fill="#141414" stroke="#141414" stroke-width="0.28" xml:space="preserve">sJAM-A.D2.Fc</text>
<line x1="88.89999999999999" y1="379.5" x2="91.7" y2="379.5" stroke="#141414" stroke-width="1.15"/>
<line x1="115.39999999999999" y1="379.5" x2="118.2" y2="379.5" stroke="#141414" stroke-width="1.15"/>
<line x1="141.6" y1="379.5" x2="144.4" y2="379.5" stroke="#141414" stroke-width="1.15"/>
<line x1="166.0" y1="379.2" x2="170.60000000000002" y2="379.2" stroke="#141414" stroke-width="1.0"/>
<line x1="168.3" y1="376.9" x2="168.3" y2="381.5" stroke="#141414" stroke-width="1.0"/>
<line x1="193.79999999999998" y1="379.5" x2="196.6" y2="379.5" stroke="#141414" stroke-width="1.15"/>
<text x="64.6" y="394.8" text-anchor="end" font-size="9.75" fill="#141414" stroke="#141414" stroke-width="0.28" xml:space="preserve">sJAM-A.D1.Fc</text>
<line x1="88.89999999999999" y1="391.3" x2="91.7" y2="391.3" stroke="#141414" stroke-width="1.15"/>
<line x1="115.39999999999999" y1="391.3" x2="118.2" y2="391.3" stroke="#141414" stroke-width="1.15"/>
<line x1="141.6" y1="391.3" x2="144.4" y2="391.3" stroke="#141414" stroke-width="1.15"/>
<line x1="166.9" y1="391.3" x2="169.70000000000002" y2="391.3" stroke="#141414" stroke-width="1.15"/>
<line x1="192.89999999999998" y1="391.0" x2="197.5" y2="391.0" stroke="#141414" stroke-width="1.0"/>
<line x1="195.2" y1="388.7" x2="195.2" y2="393.3" stroke="#141414" stroke-width="1.0"/>
<text x="64.6" y="405.8" text-anchor="end" font-size="9.75" fill="#141414" stroke="#141414" stroke-width="0.28" xml:space="preserve">Fc  -block</text>
<line x1="88.0" y1="403.0" x2="92.6" y2="403.0" stroke="#141414" stroke-width="1.0"/>
<line x1="90.3" y1="400.7" x2="90.3" y2="405.3" stroke="#141414" stroke-width="1.0"/>
<line x1="114.5" y1="403.0" x2="119.1" y2="403.0" stroke="#141414" stroke-width="1.0"/>
<line x1="116.8" y1="400.7" x2="116.8" y2="405.3" stroke="#141414" stroke-width="1.0"/>
<line x1="140.7" y1="403.0" x2="145.3" y2="403.0" stroke="#141414" stroke-width="1.0"/>
<line x1="143.0" y1="400.7" x2="143.0" y2="405.3" stroke="#141414" stroke-width="1.0"/>
<line x1="166.0" y1="403.0" x2="170.60000000000002" y2="403.0" stroke="#141414" stroke-width="1.0"/>
<line x1="168.3" y1="400.7" x2="168.3" y2="405.3" stroke="#141414" stroke-width="1.0"/>
<line x1="192.89999999999998" y1="403.0" x2="197.5" y2="403.0" stroke="#141414" stroke-width="1.0"/>
<line x1="195.2" y1="400.7" x2="195.2" y2="405.3" stroke="#141414" stroke-width="1.0"/>
<text x="226.2" y="235" font-size="17.5" font-weight="bold" fill="#000">D</text>
<rect x="322.50" y="229.00" width="195.50" height="114.00" fill="none" stroke="#111" stroke-width="1.25"/>
<text x="0" y="0" text-anchor="end" font-size="9.7" transform="translate(317.6 346.2) scale(0.93 1)" fill="#141414" stroke="#141414" stroke-width="0.28">0</text>
<line x1="320.3" y1="343.0" x2="322.5" y2="343.0" stroke="#111" stroke-width="0.9"/>
<text x="0" y="0" text-anchor="end" font-size="9.7" transform="translate(317.6 327.25) scale(0.93 1)" fill="#141414" stroke="#141414" stroke-width="0.28">200</text>
<line x1="320.3" y1="324.05" x2="322.5" y2="324.05" stroke="#111" stroke-width="0.9"/>
<text x="0" y="0" text-anchor="end" font-size="9.7" transform="translate(317.6 308.3) scale(0.93 1)" fill="#141414" stroke="#141414" stroke-width="0.28">400</text>
<line x1="320.3" y1="305.1" x2="322.5" y2="305.1" stroke="#111" stroke-width="0.9"/>
<text x="0" y="0" text-anchor="end" font-size="9.7" transform="translate(317.6 289.34999999999997) scale(0.93 1)" fill="#141414" stroke="#141414" stroke-width="0.28">600</text>
<line x1="320.3" y1="286.15" x2="322.5" y2="286.15" stroke="#111" stroke-width="0.9"/>
<text x="0" y="0" text-anchor="end" font-size="9.7" transform="translate(317.6 270.4) scale(0.93 1)" fill="#141414" stroke="#141414" stroke-width="0.28">800</text>
<line x1="320.3" y1="267.2" x2="322.5" y2="267.2" stroke="#111" stroke-width="0.9"/>
<text x="0" y="0" text-anchor="end" font-size="9.7" transform="translate(317.6 251.45) scale(0.93 1)" fill="#141414" stroke="#141414" stroke-width="0.28">1000</text>
<line x1="320.3" y1="248.25" x2="322.5" y2="248.25" stroke="#111" stroke-width="0.9"/>
<text x="0" y="0" text-anchor="end" font-size="9.7" transform="translate(317.6 232.5) scale(0.93 1)" fill="#141414" stroke="#141414" stroke-width="0.28">1200</text>
<line x1="320.3" y1="229.3" x2="322.5" y2="229.3" stroke="#111" stroke-width="0.9"/>
<text x="281.4" y="283.2" text-anchor="middle" transform="rotate(-90 281.4 283.2)" fill="#141414" stroke="#141414" stroke-width="0.28">recruited neutrophils</text>
<text x="292.8" y="283.2" text-anchor="middle" transform="rotate(-90 292.8 283.2)" fill="#141414" stroke="#141414" stroke-width="0.28">(x1000)</text>
<line x1="322.5" y1="343.0" x2="322.5" y2="345.7" stroke="#111" stroke-width="1.0"/>
<line x1="350.42857142857144" y1="343.0" x2="350.42857142857144" y2="345.7" stroke="#111" stroke-width="1.0"/>
<line x1="378.35714285714283" y1="343.0" x2="378.35714285714283" y2="345.7" stroke="#111" stroke-width="1.0"/>
<line x1="406.2857142857143" y1="343.0" x2="406.2857142857143" y2="345.7" stroke="#111" stroke-width="1.0"/>
<line x1="434.2142857142857" y1="343.0" x2="434.2142857142857" y2="345.7" stroke="#111" stroke-width="1.0"/>
<line x1="462.1428571428571" y1="343.0" x2="462.1428571428571" y2="345.7" stroke="#111" stroke-width="1.0"/>
<line x1="490.07142857142856" y1="343.0" x2="490.07142857142856" y2="345.7" stroke="#111" stroke-width="1.0"/>
<line x1="518.0" y1="343.0" x2="518.0" y2="345.7" stroke="#111" stroke-width="1.0"/>
<line x1="336.4642857142857" y1="277.6225" x2="336.4642857142857" y2="251.8505" stroke="#111" stroke-width="1.3"/>
<line x1="334.9642857142857" y1="252.3505" x2="337.9642857142857" y2="252.3505" stroke="#111" stroke-width="1.4"/>
<rect x="330.86" y="277.62" width="11.20" height="65.38" fill="#cecece" stroke="#111" stroke-width="1.2"/>
<line x1="364.3928571428571" y1="314.7645" x2="364.3928571428571" y2="301.689" stroke="#111" stroke-width="1.3"/>
<line x1="362.8928571428571" y1="302.189" x2="365.8928571428571" y2="302.189" stroke="#111" stroke-width="1.4"/>
<rect x="358.79" y="314.76" width="11.20" height="28.24" fill="#cecece" stroke="#111" stroke-width="1.2"/>
<circle cx="364.39" cy="295.15" r="1.2" fill="#222"/>
<line x1="392.32142857142856" y1="287.19225" x2="392.32142857142856" y2="271.748" stroke="#111" stroke-width="1.3"/>
<line x1="390.82142857142856" y1="272.248" x2="393.82142857142856" y2="272.248" stroke="#111" stroke-width="1.4"/>
<rect x="386.72" y="287.19" width="11.20" height="55.81" fill="#cecece" stroke="#111" stroke-width="1.2"/>
<line x1="420.25" y1="322.3445" x2="420.25" y2="314.0065" stroke="#111" stroke-width="1.3"/>
<line x1="418.75" y1="314.5065" x2="421.75" y2="314.5065" stroke="#111" stroke-width="1.4"/>
<rect x="414.65" y="322.34" width="11.20" height="20.66" fill="#cecece" stroke="#111" stroke-width="1.2"/>
<circle cx="420.25" cy="307.94" r="1.2" fill="#222"/>
<line x1="448.17857142857144" y1="316.849" x2="448.17857142857144" y2="307.1845" stroke="#111" stroke-width="1.3"/>
<line x1="446.67857142857144" y1="307.6845" x2="449.67857142857144" y2="307.6845" stroke="#111" stroke-width="1.4"/>
<rect x="442.58" y="316.85" width="11.20" height="26.15" fill="#cecece" stroke="#111" stroke-width="1.2"/>
<line x1="476.1071428571429" y1="320.639" x2="476.1071428571429" y2="306.8055" stroke="#111" stroke-width="1.3"/>
<line x1="474.6071428571429" y1="307.3055" x2="477.6071428571429" y2="307.3055" stroke="#111" stroke-width="1.4"/>
<rect x="470.51" y="320.64" width="11.20" height="22.36" fill="#cecece" stroke="#111" stroke-width="1.2"/>
<line x1="504.0357142857143" y1="310.027" x2="504.0357142857143" y2="293.44575" stroke="#111" stroke-width="1.3"/>
<line x1="502.5357142857143" y1="293.94575" x2="505.5357142857143" y2="293.94575" stroke="#111" stroke-width="1.4"/>
<rect x="498.44" y="310.03" width="11.20" height="32.97" fill="#cecece" stroke="#111" stroke-width="1.2"/>
<text x="313.6" y="359.5" text-anchor="end" fill="#141414" stroke="#141414" stroke-width="0.28"><tspan font-style="italic">wt</tspan></text>
<line x1="334.1642857142857" y1="357.3" x2="338.76428571428573" y2="357.3" stroke="#141414" stroke-width="1.0"/>
<line x1="336.4642857142857" y1="355.0" x2="336.4642857142857" y2="359.6" stroke="#141414" stroke-width="1.0"/>
<line x1="362.0928571428571" y1="357.3" x2="366.6928571428571" y2="357.3" stroke="#141414" stroke-width="1.0"/>
<line x1="364.3928571428571" y1="355.0" x2="364.3928571428571" y2="359.6" stroke="#141414" stroke-width="1.0"/>
<line x1="390.02142857142854" y1="357.3" x2="394.62142857142857" y2="357.3" stroke="#141414" stroke-width="1.0"/>
<line x1="392.32142857142856" y1="355.0" x2="392.32142857142856" y2="359.6" stroke="#141414" stroke-width="1.0"/>
<line x1="417.95" y1="357.3" x2="422.55" y2="357.3" stroke="#141414" stroke-width="1.0"/>
<line x1="420.25" y1="355.0" x2="420.25" y2="359.6" stroke="#141414" stroke-width="1.0"/>
<line x1="446.77857142857147" y1="357.6" x2="449.5785714285714" y2="357.6" stroke="#141414" stroke-width="1.15"/>
<line x1="474.7071428571429" y1="357.6" x2="477.50714285714287" y2="357.6" stroke="#141414" stroke-width="1.15"/>
<line x1="502.6357142857143" y1="357.6" x2="505.43571428571425" y2="357.6" stroke="#141414" stroke-width="1.15"/>
<text x="317.4" y="371.6" text-anchor="end" fill="#141414" stroke="#141414" stroke-width="0.28"><tspan font-style="italic">jam-a</tspan><tspan font-size="5.5" dy="-3.6" font-style="italic">-/-</tspan></text>
<line x1="335.06428571428575" y1="368.90000000000003" x2="337.8642857142857" y2="368.90000000000003" stroke="#141414" stroke-width="1.15"/>
<line x1="362.99285714285713" y1="368.90000000000003" x2="365.7928571428571" y2="368.90000000000003" stroke="#141414" stroke-width="1.15"/>
<line x1="390.9214285714286" y1="368.90000000000003" x2="393.72142857142853" y2="368.90000000000003" stroke="#141414" stroke-width="1.15"/>
<line x1="418.85" y1="368.90000000000003" x2="421.65" y2="368.90000000000003" stroke="#141414" stroke-width="1.15"/>
<line x1="445.87857142857143" y1="368.6" x2="450.47857142857146" y2="368.6" stroke="#141414" stroke-width="1.0"/>
<line x1="448.17857142857144" y1="366.3" x2="448.17857142857144" y2="370.90000000000003" stroke="#141414" stroke-width="1.0"/>
<line x1="473.8071428571429" y1="368.6" x2="478.4071428571429" y2="368.6" stroke="#141414" stroke-width="1.0"/>
<line x1="476.1071428571429" y1="366.3" x2="476.1071428571429" y2="370.90000000000003" stroke="#141414" stroke-width="1.0"/>
<line x1="501.73571428571427" y1="368.6" x2="506.3357142857143" y2="368.6" stroke="#141414" stroke-width="1.0"/>
<line x1="504.0357142857143" y1="366.3" x2="504.0357142857143" y2="370.90000000000003" stroke="#141414" stroke-width="1.0"/>
<text x="312.2" y="381.9" text-anchor="end" fill="#141414" stroke="#141414" stroke-width="0.28">sJAM-A.Fc</text>
<line x1="335.06428571428575" y1="379.3" x2="337.8642857142857" y2="379.3" stroke="#141414" stroke-width="1.15"/>
<line x1="362.0928571428571" y1="379.0" x2="366.6928571428571" y2="379.0" stroke="#141414" stroke-width="1.0"/>
<line x1="364.3928571428571" y1="376.7" x2="364.3928571428571" y2="381.3" stroke="#141414" stroke-width="1.0"/>
<line x1="390.9214285714286" y1="379.3" x2="393.72142857142853" y2="379.3" stroke="#141414" stroke-width="1.15"/>
<line x1="418.85" y1="379.3" x2="421.65" y2="379.3" stroke="#141414" stroke-width="1.15"/>
<line x1="446.77857142857147" y1="379.3" x2="449.5785714285714" y2="379.3" stroke="#141414" stroke-width="1.15"/>
<line x1="473.8071428571429" y1="379.0" x2="478.4071428571429" y2="379.0" stroke="#141414" stroke-width="1.0"/>
<line x1="476.1071428571429" y1="376.7" x2="476.1071428571429" y2="381.3" stroke="#141414" stroke-width="1.0"/>
<line x1="502.6357142857143" y1="379.3" x2="505.43571428571425" y2="379.3" stroke="#141414" stroke-width="1.15"/>
<text x="312.6" y="393.0" text-anchor="end" fill="#141414" stroke="#141414" stroke-width="0.28">hIgG</text>
<line x1="335.06428571428575" y1="390.3" x2="337.8642857142857" y2="390.3" stroke="#141414" stroke-width="1.15"/>
<line x1="362.99285714285713" y1="390.3" x2="365.7928571428571" y2="390.3" stroke="#141414" stroke-width="1.15"/>
<line x1="390.02142857142854" y1="390.0" x2="394.62142857142857" y2="390.0" stroke="#141414" stroke-width="1.0"/>
<line x1="392.32142857142856" y1="387.7" x2="392.32142857142856" y2="392.3" stroke="#141414" stroke-width="1.0"/>
<line x1="418.85" y1="390.3" x2="421.65" y2="390.3" stroke="#141414" stroke-width="1.15"/>
<line x1="446.77857142857147" y1="390.3" x2="449.5785714285714" y2="390.3" stroke="#141414" stroke-width="1.15"/>
<line x1="474.7071428571429" y1="390.3" x2="477.50714285714287" y2="390.3" stroke="#141414" stroke-width="1.15"/>
<line x1="501.73571428571427" y1="390.0" x2="506.3357142857143" y2="390.0" stroke="#141414" stroke-width="1.0"/>
<line x1="504.0357142857143" y1="387.7" x2="504.0357142857143" y2="392.3" stroke="#141414" stroke-width="1.0"/>
<text x="312.6" y="404.1" text-anchor="end" fill="#141414" stroke="#141414" stroke-width="0.28">sJAM-A</text>
<line x1="335.06428571428575" y1="401.5" x2="337.8642857142857" y2="401.5" stroke="#141414" stroke-width="1.15"/>
<line x1="362.99285714285713" y1="401.5" x2="365.7928571428571" y2="401.5" stroke="#141414" stroke-width="1.15"/>
<line x1="390.9214285714286" y1="401.5" x2="393.72142857142853" y2="401.5" stroke="#141414" stroke-width="1.15"/>
<line x1="417.95" y1="401.2" x2="422.55" y2="401.2" stroke="#141414" stroke-width="1.0"/>
<line x1="420.25" y1="398.9" x2="420.25" y2="403.5" stroke="#141414" stroke-width="1.0"/>
<line x1="446.77857142857147" y1="401.5" x2="449.5785714285714" y2="401.5" stroke="#141414" stroke-width="1.15"/>
<line x1="474.7071428571429" y1="401.5" x2="477.50714285714287" y2="401.5" stroke="#141414" stroke-width="1.15"/>
<line x1="502.6357142857143" y1="401.5" x2="505.43571428571425" y2="401.5" stroke="#141414" stroke-width="1.15"/>
</g>
</svg>
</body></html>
